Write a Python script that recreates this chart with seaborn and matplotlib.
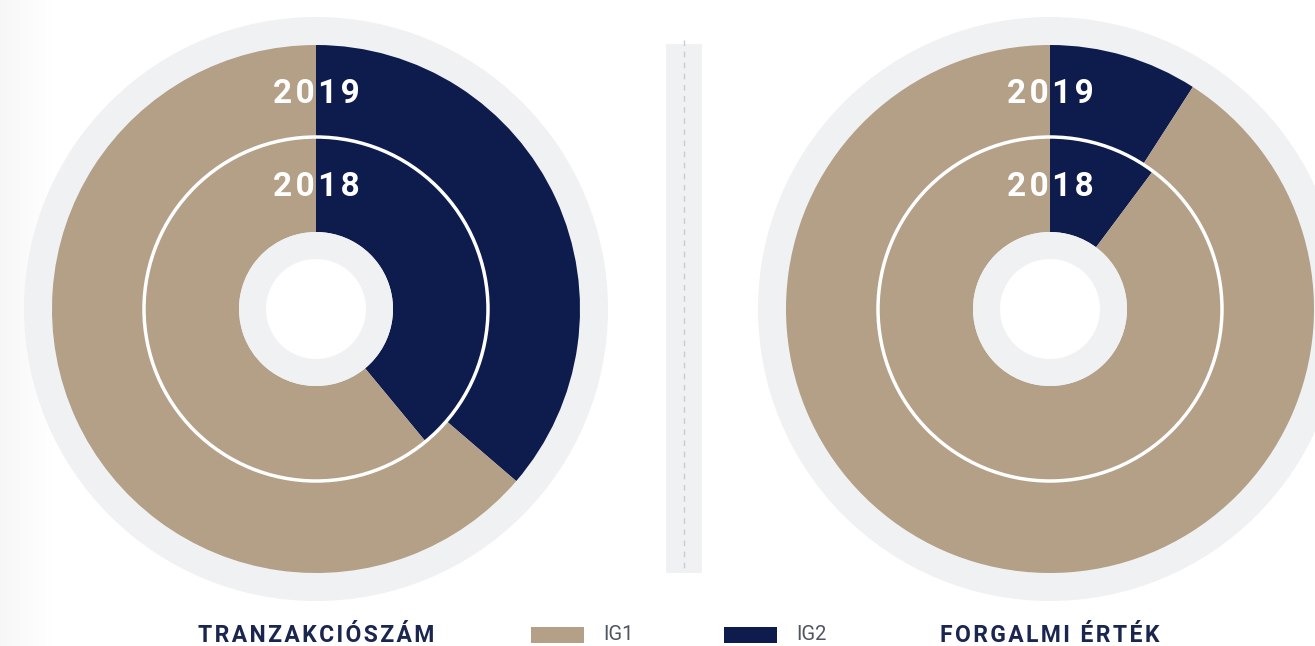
import numpy as np
import matplotlib.pyplot as plt
import seaborn as sns
from matplotlib.patches import Circle, Rectangle

# data (shares in %)
years = ['2018', '2019']
groups = ['IG1', 'IG2']
tranzakcio_ig2 = [39.0, 36.3]   # 2018, 2019
forgalmi_ig2 = [10.2, 9.1]      # 2018, 2019
panel_titles = ['TRANZAKCIÓSZÁM', 'FORGALMI ÉRTÉK']

TAN = '#b49f87'
NAVY = '#0e1b4d'
GRAY = '#eff1f3'
W, H = 1315, 646

sns.set_theme(style='white')
plt.rcParams['font.family'] = ['Roboto', 'DejaVu Sans']

fig = plt.figure(figsize=(W / 100, H / 100), dpi=100)
ax = fig.add_axes([0, 0, 1, 1])


def y(py):
    return H - py


def spaced(s, sp='\u200a'):
    return sp.join(s)


def donut(cx, cy, ig2, title):
    c = (cx, y(cy))
    ax.add_patch(Circle(c, 292, color=GRAY, lw=0, zorder=1))
    # outer ring 2019
    ax.pie([ig2[1], 100 - ig2[1]], colors=[NAVY, TAN], startangle=90, counterclock=False,
           center=c, radius=264, frame=True,
           wedgeprops=dict(width=92, linewidth=0, zorder=2))
    # inner ring 2018
    ax.pie([ig2[0], 100 - ig2[0]], colors=[NAVY, TAN], startangle=90, counterclock=False,
           center=c, radius=172, frame=True,
           wedgeprops=dict(width=95, linewidth=0, zorder=3))
    ax.add_patch(Circle(c, 172, fill=False, ec='white', lw=2.5, zorder=4))
    ax.add_patch(Circle(c, 77, color=GRAY, lw=0, zorder=4))
    ax.add_patch(Circle(c, 50, color='white', lw=0, zorder=5))
    ax.text(cx, y(94), spaced(years[1]), color='white', fontsize=24,
            fontweight='bold', ha='center', va='center', zorder=6)
    ax.text(cx, y(187), spaced(years[0]), color='white', fontsize=24,
            fontweight='bold', ha='center', va='center', zorder=6)
    ax.text(cx, y(636), spaced(title), color='#1a2550', fontsize=16.5, fontweight='bold',
            ha='center', va='center', zorder=6)


donut(316, 309, tranzakcio_ig2, panel_titles[0])
donut(1050, 309, forgalmi_ig2, panel_titles[1])

# middle divider
ax.add_patch(Rectangle((666, y(573)), 36, 529, color=GRAY, lw=0, zorder=1))
ax.plot([684, 684], [y(40), y(573)], color='#c9ccd0', lw=1, ls=(0, (4, 4)), zorder=2)

# left soft shadow
grad = np.linspace(0.965, 1.0, 60).reshape(1, -1)
ax.imshow(grad, cmap='gray', vmin=0, vmax=1, extent=(0, 60, 0, H), aspect='auto', zorder=0)

# legend
for x0, col, lab in [(531, TAN, groups[0]), (724, NAVY, groups[1])]:
    ax.add_patch(Rectangle((x0, y(643)), 53, 16, color=col, lw=0))
    ax.text(x0 + 72, y(635), lab, color='#4f5461', fontsize=14.5, fontweight='normal',
            ha='left', va='center')

ax.set_xlim(0, W)
ax.set_ylim(0, H)
ax.set_aspect('equal')
ax.axis('off')

fig.savefig('out.png', dpi=100, facecolor='white')
